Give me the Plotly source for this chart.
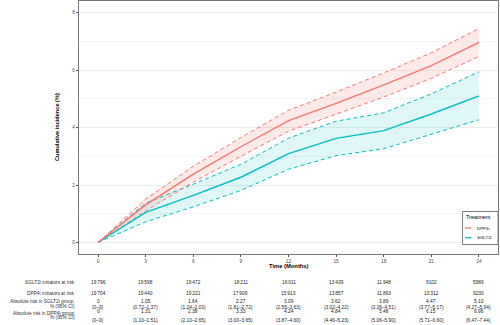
import plotly.graph_objects as go

months = [0, 3, 6, 9, 12, 15, 18, 21, 24]
sglt2_risk = [0, 1.05, 1.64, 2.27, 3.09, 3.62, 3.89, 4.47, 5.10]
sglt2_lo = [0, 0.72, 1.24, 1.81, 2.55, 3.02, 3.26, 3.77, 4.27]
sglt2_hi = [0, 1.37, 2.03, 2.72, 3.63, 4.22, 4.51, 5.17, 5.94]
dpp4_risk = [0, 1.31, 2.38, 3.33, 4.24, 4.84, 5.48, 6.15, 6.96]
dpp4_lo = [0, 1.10, 2.10, 3.00, 3.87, 4.46, 5.06, 5.71, 6.47]
dpp4_hi = [0, 1.51, 2.65, 3.65, 4.60, 5.23, 5.90, 6.60, 7.44]
sglt2_at_risk = [19796, 19598, 19472, 18211, 16011, 13439, 11948, 9102, 5989]
dpp4_at_risk = [19704, 19440, 19221, 17909, 15913, 13857, 11893, 10312, 9230]
row_labels = ["SGLT2i initiators at risk", "DPP4i initiators at risk",
              "Absolute risk in SGLT2i group,", "% (95% CI)",
              "Absolute risk in DPP4i group,", "% (95% CI)"]
y_ticks = [0, 2, 4, 6, 8]

RED = "#F8766D"
TEAL = "#00BFC4"
FONT = "Liberation Sans, Arial, sans-serif"

W, H = 500, 325
L, R, T, B = 79, 2, 1, 71
PW = W - L - R
PH = H - T - B


def xp(px):
    return (px - L) / PW


def yp(py):
    return (H - B - py) / PH


fig = go.Figure()

# ribbons
for lo, hi, col in [(sglt2_lo, sglt2_hi, "rgba(0,191,196,0.12)"),
                    (dpp4_lo, dpp4_hi, "rgba(248,118,109,0.15)")]:
    fig.add_trace(go.Scatter(x=months, y=lo, mode="lines", line=dict(width=0),
                             showlegend=False, hoverinfo="skip"))
    fig.add_trace(go.Scatter(x=months, y=hi, mode="lines", line=dict(width=0),
                             fill="tonexty", fillcolor=col, showlegend=False,
                             hoverinfo="skip"))

# dashed CI bounds
for arr, col in [(sglt2_lo, TEAL), (sglt2_hi, TEAL), (dpp4_lo, RED), (dpp4_hi, RED)]:
    fig.add_trace(go.Scatter(x=months, y=arr, mode="lines",
                             line=dict(color=col, width=1, dash="4px,3px"),
                             showlegend=False))

# main lines
fig.add_trace(go.Scatter(x=months, y=sglt2_risk, mode="lines",
                         line=dict(color=TEAL, width=1.4), name="SGLT2i"))
fig.add_trace(go.Scatter(x=months, y=dpp4_risk, mode="lines",
                         line=dict(color=RED, width=1.4), name="DPP4i"))

annotations = []
shapes = []


def fmt_n(n):
    s = f"{n:,}"
    if n >= 10000:
        return s.replace(",", "\u2009")
    return s.replace(",", "")


def fmt_v(v):
    return "0" if v == 0 else f"{v:.2f}"


def fmt_ci(lo, hi):
    if lo == 0 and hi == 0:
        return "(0\u20130)"
    return f"({lo:.2f}\u2013{hi:.2f})"


TS = 4.8
row_y = [282, 293.5, 301.5, 307.5, 311.5, 320.5]
for i, m in enumerate(months):
    vals = [fmt_n(sglt2_at_risk[i]), fmt_n(dpp4_at_risk[i]),
            fmt_v(sglt2_risk[i]), fmt_ci(sglt2_lo[i], sglt2_hi[i]),
            fmt_v(dpp4_risk[i]), fmt_ci(dpp4_lo[i], dpp4_hi[i])]
    for v, py in zip(vals, row_y):
        annotations.append(dict(x=m, xref="x", y=yp(py), yref="paper", text=v,
                                showarrow=False, xanchor="center", yanchor="middle",
                                font=dict(size=TS, color="#1a1a1a", family=FONT)))

label_y = [282, 293.5, 301.5, 306, 313, 318]
for t, py in zip(row_labels, label_y):
    annotations.append(dict(x=xp(77), xref="paper", y=yp(py), yref="paper", text=t,
                            showarrow=False, xanchor="right", yanchor="middle",
                            font=dict(size=TS, color="#333333", family=FONT)))

# axis titles
annotations.append(dict(x=xp(288.5), xref="paper", y=yp(265.5), yref="paper",
                        text="<b>Time (Months)</b>", showarrow=False,
                        xanchor="center", yanchor="middle",
                        font=dict(size=5.8, color="black", family=FONT)))
annotations.append(dict(x=xp(57), xref="paper", y=yp(127), yref="paper",
                        text="<b>Cumulative incidence (%)</b>", showarrow=False,
                        textangle=-90, xanchor="center", yanchor="middle",
                        font=dict(size=5.6, color="black", family=FONT)))

# custom legend
shapes.append(dict(type="rect", xref="paper", yref="paper",
                   x0=xp(462.5), x1=xp(498), y0=yp(244.5), y1=yp(211.5),
                   line=dict(color="#7f7f7f", width=1), fillcolor="white"))
annotations.append(dict(x=xp(464), xref="paper", y=yp(216.5), yref="paper",
                        text="Treatment", showarrow=False, xanchor="left",
                        yanchor="middle", font=dict(size=5.4, color="black", family=FONT)))
for name, col, py in [("DPP4i", RED, 228), ("SGLT2i", TEAL, 237.7)]:
    shapes.append(dict(type="line", xref="paper", yref="paper",
                       x0=xp(465), x1=xp(471.5), y0=yp(py), y1=yp(py),
                       line=dict(color=col, width=1.3)))
    annotations.append(dict(x=xp(475), xref="paper", y=yp(py), yref="paper",
                            text=name, showarrow=False, xanchor="left",
                            yanchor="middle",
                            font=dict(size=4.4, color="black", family=FONT)))

fig.update_layout(
    width=W, height=H,
    margin=dict(l=L, r=R, t=T, b=B, pad=0),
    paper_bgcolor="white", plot_bgcolor="white",
    showlegend=False,
    font=dict(family=FONT),
    annotations=annotations,
    shapes=shapes,
    xaxis=dict(range=[-1.2, 25.2], tickvals=months, ticks="outside", ticklen=2,
               tickcolor="#555555", showgrid=False, zeroline=False,
               showline=True, linecolor="#777777", linewidth=1, mirror=True,
               tickfont=dict(size=4.8, color="#4d4d4d", family=FONT)),
    yaxis=dict(range=[-0.4, 8.4], tickvals=y_ticks, ticks="outside", ticklen=2,
               tickcolor="#555555", showgrid=True, gridcolor="#ececec",
               gridwidth=0.8, zeroline=False,
               minor=dict(dtick=1, showgrid=True, gridcolor="#f4f4f4", gridwidth=0.6),
               showline=True, linecolor="#777777", linewidth=1, mirror=True,
               tickfont=dict(size=4.8, color="#4d4d4d", family=FONT)),
)

fig.write_html("out.html")
